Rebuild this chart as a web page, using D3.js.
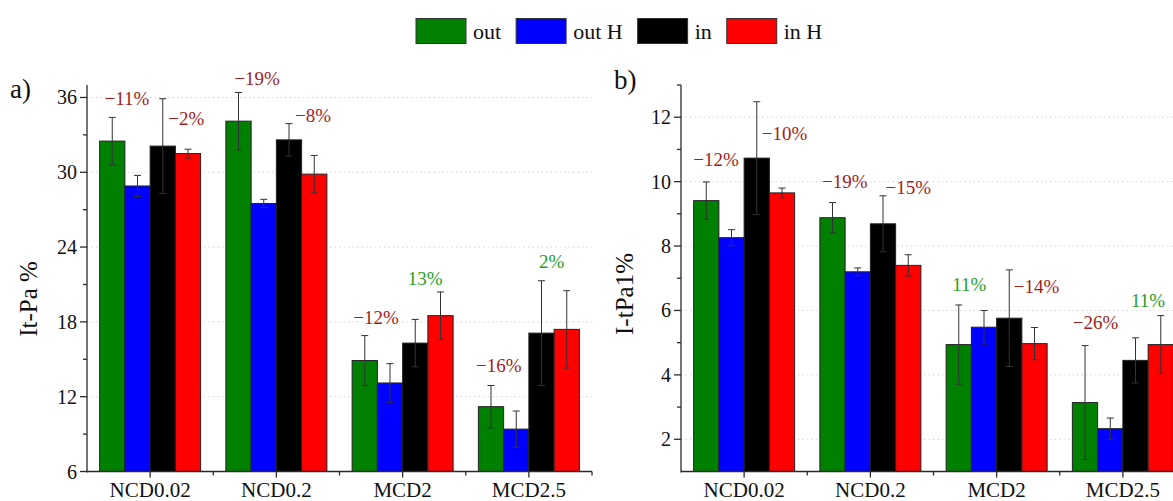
<!DOCTYPE html>
<html>
<head>
<meta charset="utf-8">
<script src="https://cdn.jsdelivr.net/npm/d3@7"></script>
<style>
  html, body { margin: 0; padding: 0; background: #fff; }
  svg { display: block; }
  svg text { font-family: "Liberation Serif", "Times New Roman", "DejaVu Serif", serif; }
</style>
</head>
<body>
<svg id="chart" width="1173" height="501"></svg>
<script>
// ---------- data ----------
const categories = ["NCD0.02", "NCD0.2", "MCD2", "MCD2.5"];
const seriesNames = ["out", "out H", "in", "in H"];

// Panel a) It-Pa %
const itpaOut      = [32.5, 34.1, 14.9, 11.2];
const itpaOutErr   = [1.9, 2.3, 2.0, 1.7];
const itpaOutH     = [28.9, 27.5, 13.1, 9.4];
const itpaOutHErr  = [0.85, 0.33, 1.55, 1.45];
const itpaIn       = [32.1, 32.6, 16.3, 17.1];
const itpaInErr    = [3.8, 1.3, 1.9, 4.2];
const itpaInH      = [31.5, 29.85, 18.5, 17.4];
const itpaInHErr   = [0.35, 1.5, 1.9, 3.1];
const itpaOutChange = ["−11%", "−19%", "−12%", "−16%"];
const itpaInChange  = ["−2%", "−8%", "13%", "2%"];
const itpaTicks      = [6, 12, 18, 24, 30, 36];
const itpaMinorTicks = [9, 15, 21, 27, 33];

// Panel b) I-tPa1 %
const tpaOut      = [9.41, 8.88, 4.94, 3.14];
const tpaOutErr   = [0.58, 0.47, 1.23, 1.77];
const tpaOutH     = [8.26, 7.2, 5.48, 2.33];
const tpaOutHErr  = [0.25, 0.12, 0.52, 0.33];
const tpaIn       = [10.73, 8.69, 5.76, 4.45];
const tpaInErr    = [1.75, 0.87, 1.5, 0.7];
const tpaInH      = [9.65, 7.4, 4.97, 4.94];
const tpaInHErr   = [0.15, 0.33, 0.5, 0.9];
const tpaOutChange = ["−12%", "−19%", "11%", "−26%"];
const tpaInChange  = ["−10%", "−15%", "−14%", "11%"];
const tpaTicks      = [2, 4, 6, 8, 10, 12];
const tpaMinorTicks = [3, 5, 7, 9, 11, 13];

// ---------- styling & layout ----------
const barColors = ["#008000", "#0000ff", "#000000", "#ff0000"];
const downColor = "#a01e1e";
const upColor = "#26a026";
const axisColor = "#2b2b2b";
const errColor = "#333";

const svg = d3.select("#chart");

// Label anchors: slot = position across the group in bar widths, at = value on the y axis
const itpaOutSpots = [{slot: 1.08, at: 35.4}, {slot: 1.24, at: 37.0}, {slot: 0.95, at: 17.85}, {slot: 0.81, at: 14.0}];
const itpaInSpots  = [{slot: 3.43, at: 33.8}, {slot: 3.45, at: 34.05}, {slot: 2.89, at: 20.95}, {slot: 2.90, at: 22.3}];
const tpaOutSpots  = [{slot: 0.89, at: 10.5}, {slot: 0.99, at: 9.8}, {slot: 0.92, at: 6.6}, {slot: 0.92, at: 5.43}];
const tpaInSpots   = [{slot: 3.60, at: 11.3}, {slot: 3.50, at: 9.62}, {slot: 3.58, at: 6.55}, {slot: 3.00, at: 6.12}];

function drawPanel(cfg) {
  const g = svg.append("g");
  const top = 85, bottom = 471.5;

  const x = d3.scaleBand().domain(categories).range([cfg.x0, cfg.x1])
    .paddingInner(0.2).paddingOuter(0.1);
  const xs = d3.scaleBand().domain(seriesNames).range([0, x.bandwidth()]);
  const y = d3.scaleLinear().domain(cfg.domain).range([bottom, top]);

  // dotted grid at major ticks
  g.append("g").selectAll("line").data(cfg.ticks).join("line")
    .attr("x1", cfg.x0).attr("x2", cfg.x1)
    .attr("y1", d => y(d)).attr("y2", d => y(d))
    .attr("stroke", "#d4d4d4").attr("stroke-width", 1)
    .attr("stroke-dasharray", "1.5,3");

  // bars with error bars
  const rows = [];
  categories.forEach((c, i) => {
    cfg.series.forEach((s, k) => {
      rows.push({cat: c, name: seriesNames[k], k, v: s.values[i], e: s.errors[i]});
    });
  });

  const bars = g.append("g");
  rows.forEach(d => {
    const bx = x(d.cat) + xs(d.name);
    const bw = xs.bandwidth();
    bars.append("rect")
      .attr("x", bx).attr("y", y(d.v))
      .attr("width", bw).attr("height", y(cfg.domain[0]) - y(d.v))
      .attr("fill", barColors[d.k])
      .attr("stroke", "#222").attr("stroke-width", 1);
    const cx = bx + bw / 2;
    const eb = bars.append("g").attr("stroke", errColor).attr("stroke-width", 1).attr("fill", "none");
    eb.append("line").attr("x1", cx).attr("x2", cx).attr("y1", y(d.v + d.e)).attr("y2", y(d.v - d.e));
    eb.append("line").attr("x1", cx - 3.5).attr("x2", cx + 3.5).attr("y1", y(d.v + d.e)).attr("y2", y(d.v + d.e));
    eb.append("line").attr("x1", cx - 3.5).attr("x2", cx + 3.5).attr("y1", y(d.v - d.e)).attr("y2", y(d.v - d.e));
  });

  // change labels
  const bwid = xs.bandwidth();
  const labels = [];
  categories.forEach((c, i) => {
    labels.push({cat: c, text: cfg.outChange[i], spot: cfg.outSpots[i]});
    labels.push({cat: c, text: cfg.inChange[i], spot: cfg.inSpots[i]});
  });
  g.append("g").selectAll("text").data(labels).join("text")
    .attr("x", d => x(d.cat) + d.spot.slot * bwid)
    .attr("y", d => y(d.spot.at))
    .attr("text-anchor", "middle")
    .attr("font-size", 19)
    .attr("fill", d => d.text.startsWith("−") ? downColor : upColor)
    .text(d => d.text);

  // y axis
  const ax = g.append("g").attr("stroke", axisColor).attr("stroke-width", 1.3);
  ax.append("line").attr("x1", cfg.x0).attr("x2", cfg.x0).attr("y1", top).attr("y2", bottom + 1);
  ax.selectAll(".maj").data(cfg.ticks).join("line")
    .attr("x1", cfg.x0 - 7).attr("x2", cfg.x0).attr("y1", d => y(d)).attr("y2", d => y(d));
  ax.selectAll(".min").data(cfg.minor).join("line")
    .attr("x1", cfg.x0 - 4).attr("x2", cfg.x0).attr("y1", d => y(d)).attr("y2", d => y(d));
  g.append("g").selectAll("text").data(cfg.ticks).join("text")
    .attr("x", cfg.x0 - 10).attr("y", d => y(d)).attr("dy", "0.35em")
    .attr("text-anchor", "end")
    .attr("font-size", 20).attr("fill", "#111")
    .text(d => d);

  // x axis
  const bx = g.append("g").attr("stroke", axisColor).attr("stroke-width", 1.3);
  bx.append("line").attr("x1", cfg.x0).attr("x2", cfg.x1).attr("y1", bottom).attr("y2", bottom);
  bx.selectAll(".maj").data(categories).join("line")
    .attr("x1", d => x(d) + x.bandwidth() / 2).attr("x2", d => x(d) + x.bandwidth() / 2)
    .attr("y1", bottom).attr("y2", bottom + 6);
  const bounds = d3.range(1, categories.length + 1).map(i => cfg.x0 + i * x.step());
  bx.selectAll(".min").data(bounds).join("line")
    .attr("x1", d => d).attr("x2", d => d).attr("y1", bottom).attr("y2", bottom + 4);
  g.append("g").selectAll("text").data(categories).join("text")
    .attr("x", d => x(d) + x.bandwidth() / 2).attr("y", 497)
    .attr("text-anchor", "middle")
    .attr("font-size", 21).attr("fill", "#111")
    .text(d => d);

  // axis title
  g.append("text")
    .attr("transform", `translate(${cfg.titleX},${cfg.titleY}) rotate(-90)`)
    .attr("text-anchor", "middle")
    .attr("font-size", 25).attr("fill", "#111")
    .text(cfg.title);

  // panel letter
  g.append("text")
    .attr("x", cfg.letterX).attr("y", cfg.letterY)
    .attr("font-size", 27).attr("fill", "#111")
    .text(cfg.letter);
}

drawPanel({
  x0: 87, x1: 592, domain: [6, 37],
  ticks: itpaTicks, minor: itpaMinorTicks,
  series: [
    {values: itpaOut, errors: itpaOutErr},
    {values: itpaOutH, errors: itpaOutHErr},
    {values: itpaIn, errors: itpaInErr},
    {values: itpaInH, errors: itpaInHErr}
  ],
  outChange: itpaOutChange, inChange: itpaInChange,
  outSpots: itpaOutSpots, inSpots: itpaInSpots,
  title: "It-Pa %", titleX: 37, titleY: 299,
  letter: "a)", letterX: 10, letterY: 98
});

drawPanel({
  x0: 681, x1: 1186, domain: [1, 13],
  ticks: tpaTicks, minor: tpaMinorTicks,
  series: [
    {values: tpaOut, errors: tpaOutErr},
    {values: tpaOutH, errors: tpaOutHErr},
    {values: tpaIn, errors: tpaInErr},
    {values: tpaInH, errors: tpaInHErr}
  ],
  outChange: tpaOutChange, inChange: tpaInChange,
  outSpots: tpaOutSpots, inSpots: tpaInSpots,
  title: "I-tPa1%", titleX: 633, titleY: 294,
  letter: "b)", letterX: 614, letterY: 89
});

// legend
const legend = svg.append("g");
let lx = 416;
seriesNames.forEach((name, k) => {
  legend.append("rect")
    .attr("x", lx).attr("y", 18.5).attr("width", 50).attr("height", 25)
    .attr("fill", barColors[k]).attr("stroke", "#333").attr("stroke-width", 1);
  const t = legend.append("text")
    .attr("x", lx + 57).attr("y", 38.5)
    .attr("font-size", 22).attr("fill", "#111")
    .text(name);
  lx += 57 + t.node().getComputedTextLength() + 15;
});
</script>
</body>
</html>
